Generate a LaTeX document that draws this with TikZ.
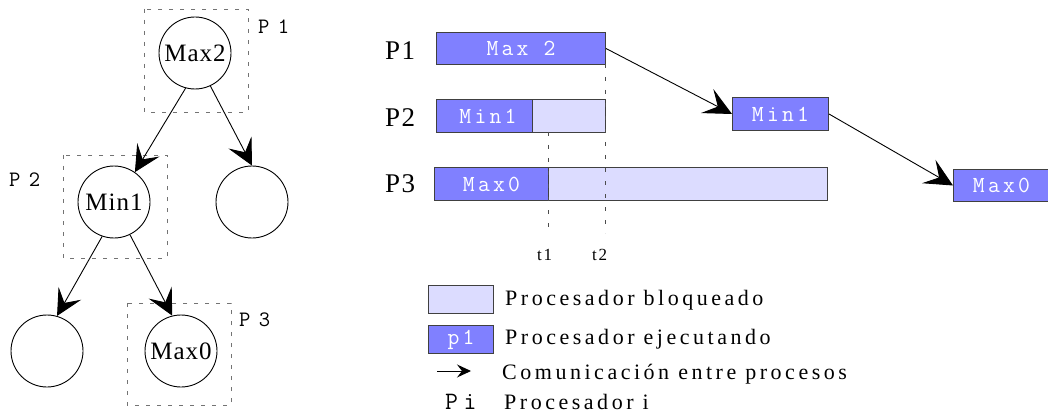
\documentclass[tikz,border=0pt]{standalone}
\usepackage{fontspec}
\setmainfont{Liberation Serif}
\newfontfamily\monoA{Latin Modern Mono}[LetterSpace=38]
\newfontfamily\monoB{Latin Modern Mono}[LetterSpace=14]
\newfontfamily\monoC{Latin Modern Mono}[LetterSpace=22]
\usetikzlibrary{arrows.meta}
\definecolor{runc}{RGB}{128,128,255}
\definecolor{blkc}{RGB}{220,220,255}
\tikzset{
  treecirc/.style={circle, draw, line width=0.9pt, minimum size=72pt, inner sep=0pt,
    font=\fontsize{25}{28}\selectfont\addfontfeatures{LetterSpace=4}},
  procbox/.style={draw=black!55, dash pattern=on 4pt off 7pt, line width=0.9pt},
  treelbl/.style={inner sep=0pt, anchor=base west,
    font=\monoA\fontsize{22}{24}\selectfont},
  ganttlbl/.style={inner sep=0pt, anchor=base west,
    font=\fontsize{27}{30}\selectfont\addfontfeatures{LetterSpace=5}},
  runbar/.style={draw=black!75, fill=runc, line width=1pt, inner sep=0pt, anchor=north west,
    text=white, font=\monoB\fontsize{23}{25}\selectfont},
  blkbar/.style={draw=black!75, fill=blkc, line width=1pt, inner sep=0pt, anchor=north west},
  tline/.style={draw=black!70, dash pattern=on 4pt off 9pt, line width=1pt},
  tlbl/.style={inner sep=0pt, anchor=base west,
    font=\fontsize{17}{19}\selectfont\addfontfeatures{LetterSpace=10}},
  legtext/.style={inner sep=0pt, anchor=base west,
    font=\fontsize{22}{24}\selectfont\addfontfeatures{LetterSpace=16}},
  legmono/.style={inner sep=0pt, anchor=base west,
    font=\monoC\fontsize{25}{27}\selectfont},
  bigarrow/.style={-{Stealth[length=26pt,width=26pt,inset=11pt]}, line width=0.9pt},
  msgarrow/.style={-{Stealth[length=28pt,width=27pt,inset=12pt]}, line width=0.9pt},
  smallarrow/.style={-{Stealth[length=14pt,width=13pt,inset=5pt]}, line width=1pt},
}
\begin{document}
\begin{tikzpicture}[x=1pt, y=-1pt]
\useasboundingbox (0,0) rectangle (1048,414);
\fill[white] (0,0) rectangle (1048,414);

% ---- tree ----
\draw[procbox] (144,9) rectangle (248,112);
\draw[procbox] (63,155) rectangle (167,258);
\draw[procbox] (127,303) rectangle (231,405);
\node[treecirc] (max2) at (195,53) {\raisebox{-3pt}{Max2}};
\node[treecirc] (min1) at (114,202) {Min1};
\node[treecirc] (rc) at (252,202) {};
\node[treecirc] (bl) at (47,351) {};
\node[treecirc] (max0) at (181,351) {Max0};
\node[treelbl] (tp1) at (258,34) {P1};
\node[treelbl] (tp2) at (9,186) {P2};
\node[treelbl] (tp3) at (239,326) {P3};
\draw[bigarrow] (max2.255) -- (min1.55);
\draw[bigarrow] (max2.295) -- (rc.north);
\draw[bigarrow] (min1.251) -- (bl.74);
\draw[bigarrow] (min1.296) -- (max0.104);

% ---- gantt ----
\node[ganttlbl] (gp1) at (385,60) {P1};
\node[ganttlbl] (gp2) at (385,127) {P2};
\node[ganttlbl] (gp3) at (385,193) {P3};
\node[runbar, minimum width=169pt, minimum height=32pt] (b1) at (436,32) {Max 2};
\node[runbar, minimum width=103pt, minimum height=33pt] (b2) at (436,99) {Min1};
\node[blkbar, minimum width=73pt, minimum height=33pt] (b2l) at (532,99) {};
\node[runbar, minimum width=114pt, minimum height=33pt] (b3) at (434,167) {Max0};
\node[blkbar, minimum width=279pt, minimum height=33pt] (b3l) at (548,167) {};
\node[runbar, minimum width=96pt, minimum height=33pt] (m1b) at (732,97) {Min1};
\node[runbar, minimum width=98pt, minimum height=32pt] (m0b) at (953,169) {\hspace*{-2pt}Max0};

\coordinate (t1top) at (548,132);
\coordinate (t1bot) at (548,233);
\coordinate (t2top) at (605,64);
\coordinate (t2bot) at (605,233);
\draw[tline] (t1top) -- (t1bot);
\draw[tline] (t2top) -- (t2bot);
\node[tlbl] (t1) at (537,260) {t1};
\node[tlbl] (t2) at (592,260) {t2};

\draw[msgarrow] (b1.east) -- (m1b.west);
\draw[msgarrow] (m1b.east) -- (m0b.west);

% ---- legend ----
\node[blkbar, minimum width=65pt, minimum height=28pt] (lg1) at (428,285) {};
\node[legtext] (lt1) at (505,305) {Procesador bloqueado};
\node[runbar, minimum width=65pt, minimum height=28pt] (lg2) at (428,325) {p1};
\node[legtext] (lt2) at (505,344) {Procesador ejecutando};
\coordinate (la0) at (437,371);
\coordinate (la1) at (471,371);
\draw[smallarrow] (la0) -- (la1);
\node[legtext] (lt3) at (502,379) {Comunicación entre procesos};
\node[legmono] (lpi) at (445,409) {Pi};
\node[legtext] (lt4) at (504,409) {Procesador i};
\end{tikzpicture}
\end{document}
